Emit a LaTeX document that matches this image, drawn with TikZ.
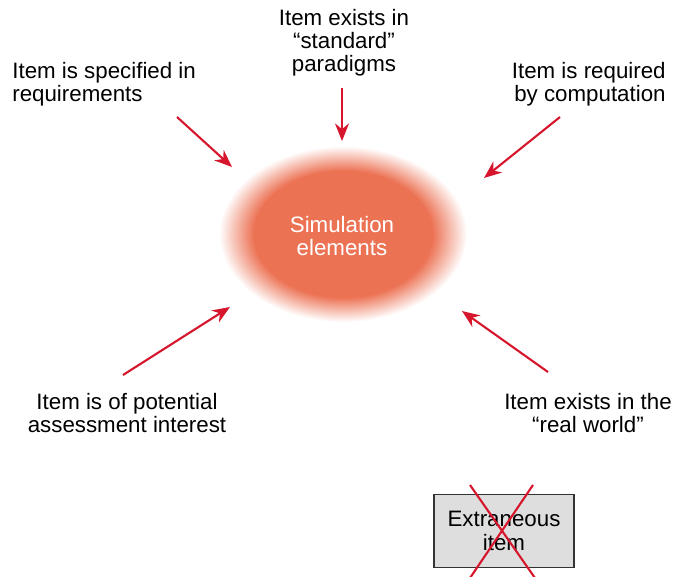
\documentclass[tikz,border=0pt]{standalone}
\usepackage{fontspec}
\setmainfont{Liberation Sans}
\usetikzlibrary{positioning}
\usetikzlibrary{arrows.meta}
\definecolor{simred}{RGB}{236,114,84}
\definecolor{arrowred}{RGB}{214,22,45}
\definecolor{boxgray}{RGB}{222,222,222}
\pgfdeclareradialshading{simblob}{\pgfpoint{0bp}{0bp}}{color(0bp)=(simred); color(18bp)=(simred); color(25bp)=(white); color(50bp)=(white)}

\begin{document}
\begin{tikzpicture}[x=0.02cm, y=-0.02cm, font=\fontsize{12.7}{13.2}\selectfont,
	src/.style={align=center, inner sep=0pt},
	feed/.style={draw=arrowred, line width=1.2pt, -{Stealth[length=10pt,width=8pt]}}]
	    \useasboundingbox (0,0) rectangle (674,576);
	    % the blurred blob
	    \shade[shading=simblob] (343,234) ellipse (2.48cm and 1.76cm);
	    \node(sim) [src, text=white] at (342,236) {Simulation\\elements};
	    % sources
	    \node(spec) [src, anchor=west, align=left] at (12,84) {Item is specified in\\requirements};
	    \node(std) [src] at (344,43) {Item exists in\\“standard”\\paradigms};
	    \node(comp) [src, anchor=east, align=right] at (666,84) {Item is required\\by computation};
	    \node(assess) [src] at (127,413) {Item is of potential\\assessment interest};
	    \node(real) [src] at (588,413) {Item exists in the\\“real world”};
	    \coordinate(spec-t) at (177,117);   \coordinate(spec-h) at (232,167);
	    \coordinate(std-t) at (342,88);     \coordinate(std-h) at (342,141);
	    \coordinate(comp-t) at (560,117);   \coordinate(comp-h) at (484,178);
	    \coordinate(assess-t) at (123,375); \coordinate(assess-h) at (230,307);
	    \coordinate(real-t) at (548,372);   \coordinate(real-h) at (462,311);
	    \draw[feed] (spec-t) -- (spec-h);
	    \draw[feed] (std-t) -- (std-h);
	    \draw[feed] (comp-t) -- (comp-h);
	    \draw[feed] (assess-t) -- (assess-h);
	    \draw[feed] (real-t) -- (real-h);
	    % crossed out item
	    \node(extra) [src, draw=black!80, fill=boxgray, line width=1pt, minimum width=2.8cm, minimum height=1.46cm] at (504,531) {Extraneous\\item};
	    \coordinate(x1) at (470,485); \coordinate(x2) at (535,578);
	    \coordinate(x3) at (533,485); \coordinate(x4) at (470,578);
	    \draw[arrowred, line width=1.2pt] (x1) -- (x2);
	    \draw[arrowred, line width=1.2pt] (x3) -- (x4);
	  \end{tikzpicture}
\end{document}
